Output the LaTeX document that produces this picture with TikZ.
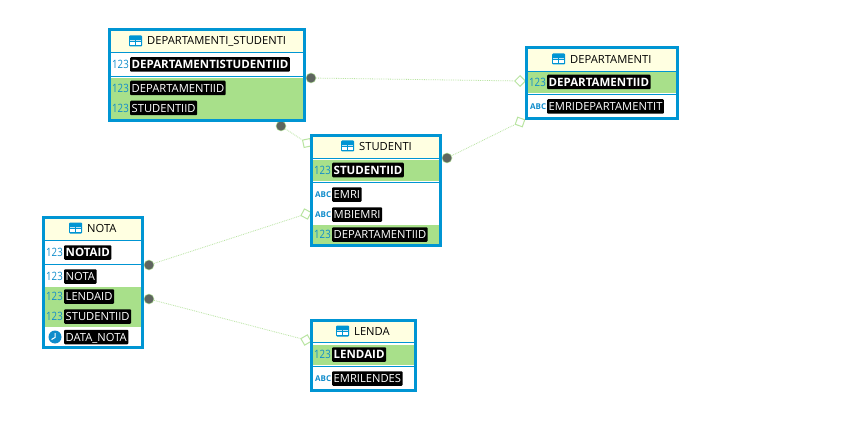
\documentclass[tikz,border=0pt]{standalone}
\usepackage{fontspec}
\setmainfont{Open Sans}
\usetikzlibrary{shapes.geometric}
\definecolor{frameblue}{HTML}{0095D3}
\definecolor{keygreen}{HTML}{A8E08A}
\definecolor{headbg}{HTML}{FFFFE1}
\definecolor{linkgreen}{HTML}{B8E4A0}
\definecolor{numblue}{HTML}{0F8CCB}
\definecolor{dotgrey}{HTML}{5F655F}
\tikzset{
  x=1pt,y=-1pt,
  frame/.style={draw=frameblue,line width=3pt,fill=white,rectangle,inner sep=0pt,outer sep=0pt,anchor=north west},
  headband/.style={fill=headbg,draw=none},
  keyband/.style={fill=keygreen,draw=none},
  divider/.style={draw=frameblue,line width=1pt},
  header/.style={font=\fontsize{11.2}{13}\selectfont,text=black,inner sep=0pt,anchor=west},
  label/.style={fill=black,text=white,rounded corners=1pt,font=\fontsize{11.2}{13}\selectfont,inner xsep=1.5pt,inner ysep=2.5pt,text height=9pt,text depth=0.5pt,anchor=west},
  boldlabel/.style={label,font=\fontsize{11.5}{13}\selectfont\bfseries},
  num/.style={text=numblue,font=\fontsize{11.5}{13}\selectfont,inner sep=0pt,anchor=west},
  abc/.style={text=numblue,font=\fontsize{8}{9}\selectfont\bfseries,inner sep=0pt,anchor=west},
  link/.style={draw=linkgreen,line width=0.8pt,densely dotted},
  fkdot/.style={circle,fill=dotgrey,draw=linkgreen,line width=0.5pt,minimum size=10pt,inner sep=0pt},
  pkdiamond/.style={diamond,aspect=1,draw=linkgreen,fill=white,line width=1pt,minimum size=11pt,inner sep=0pt},
}
\newcommand{\nn}{\scalebox{0.84}[1]{123}}
\newcommand{\tableicon}[2]{%
  \fill[frameblue,rounded corners=1pt] (#1,#2-5.5) rectangle ++(13,11);
  \fill[white!75!frameblue] (#1+1.2,#2-1) rectangle (#1+6,#2+0.2);
  \fill[white!75!frameblue] (#1+7,#2-1) rectangle (#1+11.8,#2+0.2);
  \fill[white] (#1+1.2,#2+1) rectangle (#1+6,#2+4.2);
  \fill[white] (#1+7,#2+1) rectangle (#1+11.8,#2+4.2);
}
\begin{document}
\begin{tikzpicture}
\useasboundingbox (0,0) rectangle (846,425);
\fill[white] (0,0) rectangle (846,425);

% ---------- connector ends
\node[fkdot] (d1) at (311,78) {};
\node[fkdot] (d2) at (281,126) {};
\node[fkdot] (d3) at (447,158) {};
\node[fkdot] (d4) at (149,265) {};
\node[fkdot] (d5) at (149,299) {};
\node[pkdiamond] (k1) at (520,81) {};
\node[pkdiamond,rotate=-33] (k2) at (307,143) {};
\node[pkdiamond,rotate=26] (k3) at (520,122) {};
\node[pkdiamond,rotate=18] (k4) at (306,214) {};
\node[pkdiamond,rotate=-15] (k5) at (306,340) {};
\draw[link] (d1) -- (k1);
\draw[link] (d2) -- (k2);
\draw[link] (d3) -- (k3);
\draw[link] (d4) -- (k4);
\draw[link] (d5) -- (k5);

% ---------- DEPARTAMENTI_STUDENTI
\node[frame,minimum width=195pt,minimum height=91pt] (ds) at (109.5,29.5) {};
\fill[headband] (111,31) rectangle (303,52);
\fill[keyband] (111,78) rectangle (303,119);
\draw[divider] (111,52.5) -- (303,52.5);
\draw[divider] (111,76.5) -- (303,76.5);
\tableicon{129}{41}
\node[header] (dsh) at (147,41) {DEPARTAMENTI\_STUDENTI};
\node[num] (ds1n) at (112,64.5) {\nn};
\node[boldlabel] (ds1) at (130,64.5) {DEPARTAMENTISTUDENTIID};
\node[num] (ds2n) at (112,88) {\nn};
\node[label] (ds2) at (130,88) {DEPARTAMENTIID};
\node[num] (ds3n) at (112,108) {\nn};
\node[label] (ds3) at (130,108) {STUDENTIID};

% ---------- DEPARTAMENTI
\node[frame,minimum width=151pt,minimum height=71pt] (de) at (526.5,47.5) {};
\fill[headband] (528,49) rectangle (676,71);
\fill[keyband] (528,72.5) rectangle (676,93);
\draw[divider] (528,71.5) -- (676,71.5);
\draw[divider] (528,94.5) -- (676,94.5);
\tableicon{552}{59}
\node[header] (deh) at (570,59) {DEPARTAMENTI};
\node[num] (de1n) at (529,82) {\nn};
\node[boldlabel] (de1) at (547,82) {DEPARTAMENTIID};
\node[abc] (de2n) at (530,106.5) {ABC};
\node[label] (de2) at (547,106.5) {EMRIDEPARTAMENTIT};

% ---------- STUDENTI
\node[frame,minimum width=129pt,minimum height=110pt] (st) at (311.5,135.5) {};
\fill[headband] (313,137) rectangle (439,158);
\fill[keyband] (313,160.5) rectangle (439,181);
\fill[keyband] (313,225) rectangle (439,244);
\draw[divider] (313,158.5) -- (439,158.5);
\draw[divider] (313,182.5) -- (439,182.5);
\tableicon{341}{146}
\node[header] (sth) at (359,146) {STUDENTI};
\node[num] (st1n) at (314,170) {\nn};
\node[boldlabel] (st1) at (332,170) {STUDENTIID};
\node[abc] (st2n) at (315,194.5) {ABC};
\node[label] (st2) at (332,194.5) {EMRI};
\node[abc] (st3n) at (315,214.5) {ABC};
\node[label] (st3) at (332,214.5) {MBIEMRI};
\node[num] (st4n) at (314,234.5) {\nn};
\node[label] (st4) at (332,234.5) {DEPARTAMENTIID};

% ---------- NOTA
\node[frame,minimum width=99pt,minimum height=130pt] (no) at (43.5,217.5) {};
\fill[headband] (45,219) rectangle (141,240.5);
\fill[keyband] (45,287) rectangle (141,327);
\draw[divider] (45,240.5) -- (141,240.5);
\draw[divider] (45,264.5) -- (141,264.5);
\tableicon{69}{228}
\node[header] (noh) at (87,228.5) {NOTA};
\node[num] (no1n) at (46,252.5) {\nn};
\node[boldlabel] (no1) at (64,252.5) {NOTAID};
\node[num] (no2n) at (46,276.5) {\nn};
\node[label] (no2) at (64,276.5) {NOTA};
\node[num] (no3n) at (46,296.5) {\nn};
\node[label] (no3) at (64,296.5) {LENDAID};
\node[num] (no4n) at (46,316.5) {\nn};
\node[label] (no4) at (64,316.5) {STUDENTIID};
\fill[numblue] (55,337) circle (6.5);
\draw[white,line width=1pt] (55,333) -- (55,337.5) -- (51.5,339.5);
\node[label] (no5) at (64,337) {DATA\_NOTA};

% ---------- LENDA
\node[frame,minimum width=104pt,minimum height=70pt] (le) at (311.5,320.5) {};
\fill[headband] (313,322) rectangle (414,342);
\fill[keyband] (313,345) rectangle (414,365);
\draw[divider] (313,342.5) -- (414,342.5);
\draw[divider] (313,366.5) -- (414,366.5);
\tableicon{336}{331}
\node[header] (leh) at (354,331) {LENDA};
\node[num] (le1n) at (314,354.5) {\nn};
\node[boldlabel] (le1) at (332,354.5) {LENDAID};
\node[abc] (le2n) at (315,378.5) {ABC};
\node[label] (le2) at (332,378.5) {EMRILENDES};
\end{tikzpicture}
\end{document}
